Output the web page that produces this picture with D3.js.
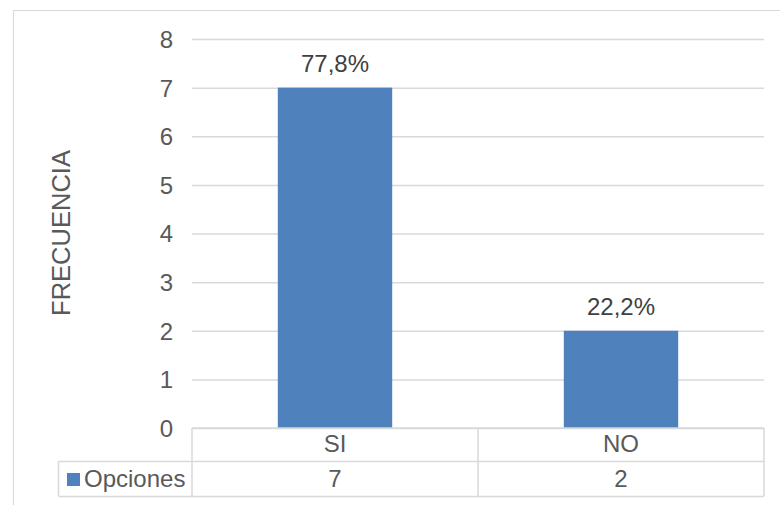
<!DOCTYPE html>
<html><head><meta charset="utf-8">
<script src="https://cdn.jsdelivr.net/npm/d3@7"></script>
<style>body{margin:0;background:#fff}svg{display:block;font-family:Arial,"Liberation Sans",sans-serif}</style>
</head><body><div id="c"></div>
<script>
const categories = ["SI", "NO"];
const values = [7, 2];
const labels = ["77,8%", "22,2%"];
const seriesName = "Opciones";
const yTicks = [0,1,2,3,4,5,6,7,8];

const W = 780, H = 505;
const FONT = "Arial,'Liberation Sans',sans-serif";
const svg = d3.select("#c").append("svg").attr("width", W).attr("height", H);
const txt = "#595959", dark = "#404040", grid = "#d9d9d9", barColor = "#4f81bd";

svg.append("rect").attr("x",13.5).attr("y",10.5).attr("width",W+10).attr("height",H+10)
  .attr("fill","#fff").attr("stroke",grid);

const x0 = 192, x1 = 764, yTop = 39, yBot = 428;
const x = d3.scaleBand().domain(categories).range([x0,x1]).paddingInner(0.6).paddingOuter(0.3);
const y = d3.scaleLinear().domain([0,8]).range([yBot,yTop]);

const yAxis = svg.append("g").attr("transform",`translate(${x0},0)`)
  .call(d3.axisLeft(y).tickValues(yTicks).tickSize(-(x1-x0)).tickPadding(19).tickFormat(d3.format("d")));
yAxis.select(".domain").remove();
yAxis.selectAll(".tick line").attr("stroke",grid).attr("stroke-width",1.5);
yAxis.selectAll(".tick text").attr("fill",txt).attr("font-size",24).attr("font-family",FONT).attr("dy","0.35em");

svg.selectAll(".bar").data(values).join("rect")
  .attr("x",(d,i)=>x(categories[i])).attr("width",x.bandwidth())
  .attr("y",d=>y(d)).attr("height",d=>y(0)-y(d)).attr("fill",barColor);

svg.selectAll(".lbl").data(values).join("text")
  .attr("x",(d,i)=>x(categories[i])+x.bandwidth()/2).attr("y",d=>y(d)-16)
  .attr("text-anchor","middle").attr("fill",dark).attr("font-size",24).text((d,i)=>labels[i]);

svg.append("text").attr("transform","translate(70,233) rotate(-90)")
  .attr("text-anchor","middle").attr("fill",txt).attr("font-size",25.5).text("FRECUENCIA");

// data table
const rowTop = 428, rowMid = 461.5, rowBot = 496.5, legLeft = 58.5;
const tg = svg.append("g").attr("stroke",grid).attr("stroke-width",1.5).attr("fill","none");
tg.append("line").attr("x1",x0).attr("x2",x1).attr("y1",rowTop).attr("y2",rowTop);
tg.append("line").attr("x1",legLeft).attr("x2",x1).attr("y1",rowMid).attr("y2",rowMid);
tg.append("line").attr("x1",legLeft).attr("x2",x1).attr("y1",rowBot).attr("y2",rowBot);
tg.append("line").attr("x1",legLeft).attr("x2",legLeft).attr("y1",rowMid).attr("y2",rowBot);
const edges = [x0, x0+(x1-x0)/2, x1];
edges.forEach(e=>tg.append("line").attr("x1",e).attr("x2",e).attr("y1",rowTop).attr("y2",rowBot));

const step = (x1-x0)/categories.length;
categories.forEach((c,i)=>{
  svg.append("text").attr("x",x0+step*i+step/2).attr("y",452).attr("text-anchor","middle")
    .attr("fill",txt).attr("font-size",24).text(c);
  svg.append("text").attr("x",x0+step*i+step/2).attr("y",487).attr("text-anchor","middle")
    .attr("fill",txt).attr("font-size",24).text(values[i]);
});
svg.append("rect").attr("x",67).attr("y",473).attr("width",13).attr("height",13).attr("fill",barColor);
svg.append("text").attr("x",84).attr("y",487).attr("fill",txt).attr("font-size",24).text(seriesName);
</script></body></html>
